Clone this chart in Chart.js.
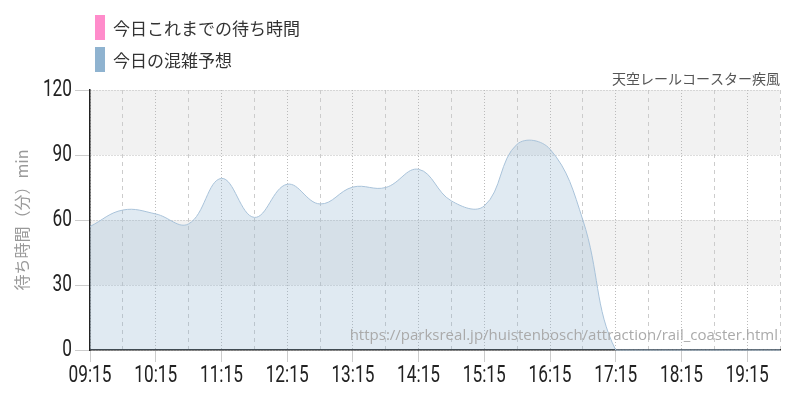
<!DOCTYPE html>
<html lang="ja">
<head>
<meta charset="UTF-8">
<title>天空レールコースター疾風</title>
<script src="https://cdn.jsdelivr.net/npm/chart.js"></script>
<style>
    body { margin: 0; background: #fff; }
    #wrap { position: relative; width: 800px; height: 400px; }
    #legend {
        position: absolute; left: 95px; top: 15px;
        font-family: 'Noto Sans CJK JP', sans-serif; font-size: 17px; color: #333;
    }
    #legend .item { display: flex; align-items: center; height: 25px; margin-bottom: 7px; }
    #legend .box { width: 10px; height: 25px; margin-right: 8px; }
</style>
</head>
<body>
<div id="wrap">
    <canvas id="chart" width="800" height="400"></canvas>
    <div id="legend"></div>
</div>
<script>
    // 30 minute slots, 09:15 - 19:45
    const timeLabels = ['09:15', '09:45', '10:15', '10:45', '11:15', '11:45', '12:15', '12:45',
        '13:15', '13:45', '14:15', '14:45', '15:15', '15:45', '16:15', '16:45',
        '17:15', '17:45', '18:15', '18:45', '19:15', '19:45'];
    const hourLabels = ['09:15', '10:15', '11:15', '12:15', '13:15', '14:15', '15:15',
        '16:15', '17:15', '18:15', '19:15'];
    const todayWait = []; // nothing recorded yet
    const forecast = [57, 64.6, 62.8, 58.2, 79.2, 61.2, 76.5, 67.4, 75.2, 75, 83.4, 68.8,
        66.5, 95, 92.7, 60, 0, 0, 0, 0, 0, 0];
    const yTicks = [0, 30, 60, 90, 120];

    const bands = {
        id: 'bands',
        beforeDraw(chart) {
            const { ctx, chartArea: a, scales: { y } } = chart;
            ctx.save();
            ctx.fillStyle = '#f2f2f2';
            [[90, 120], [30, 60]].forEach(([lo, hi]) => {
                const top = y.getPixelForValue(hi), bot = y.getPixelForValue(lo);
                ctx.fillRect(a.left, top, a.right - a.left, bot - top);
            });
            ctx.restore();
        }
    };

    const watermark = {
        id: 'watermark',
        afterDatasetsDraw(chart) {
            const { ctx, chartArea: a } = chart;
            ctx.save();
            ctx.font = "15px 'Open Sans', sans-serif";
            ctx.fillStyle = '#aaa';
            ctx.textAlign = 'right';
            ctx.textBaseline = 'middle';
            ctx.fillText('https://parksreal.jp/huistenbosch/attraction/rail_coaster.html', a.right - 2, a.bottom - 14);
            ctx.restore();
        }
    };

    // narrow tick labels (no condensed font available, so squeeze Roboto)
    const narrowTicks = {
        id: 'narrowTicks',
        afterDraw(chart) {
            const { ctx, scales: { x, y } } = chart;
            const put = (text, px, py, align) => {
                ctx.save();
                ctx.translate(px, py);
                ctx.scale(0.75, 1);
                ctx.textAlign = align;
                ctx.fillText(text, 0, 0);
                ctx.restore();
            };
            ctx.save();
            ctx.font = "23px Roboto, sans-serif";
            ctx.fillStyle = '#222';
            ctx.textBaseline = 'middle';
            x.ticks.forEach((t, i) => {
                const l = timeLabels[i];
                if (hourLabels.includes(l)) put(l, x.getPixelForTick(i), x.top + 26, 'center');
            });
            y.ticks.forEach(t => put(String(t.value), y.right - 18, y.getPixelForValue(t.value), 'right'));
            ctx.restore();
        }
    };

    const chart = new Chart(document.getElementById('chart'), {
        type: 'line',
        data: {
            labels: timeLabels,
            datasets: [{
                label: '今日これまでの待ち時間',
                data: todayWait,
                borderColor: '#ff8ccb',
                backgroundColor: '#ff8ccb'
            }, {
                label: '今日の混雑予想',
                data: forecast,
                fill: 'origin',
                borderColor: '#a9c3da',
                backgroundColor: 'rgba(143, 179, 208, 0.28)',
                borderWidth: 1,
                pointRadius: 0,
                tension: 0.4,
                clip: false,
                legendColor: '#8fb3d0'
            }]
        },
        options: {
            responsive: false,
            animation: false,
            layout: { padding: { top: 70, right: 20, left: 0, bottom: 0 } },
            plugins: {
                legend: { display: false },
                tooltip: { enabled: false },
                title: {
                    display: true,
                    text: '天空レールコースター疾風',
                    align: 'end',
                    color: '#555',
                    font: { family: "'Noto Sans CJK JP', sans-serif", size: 14, weight: 'normal', lineHeight: 1.2 },
                    padding: { top: 0, bottom: 3.2 }
                }
            },
            scales: {
                x: {
                    grid: {
                        color: c => c.index % 2 === 0 ? '#bbb' : 'transparent',
                        tickColor: c => c.index % 2 === 0 ? '#ccc' : 'transparent',
                        tickLength: 12
                    },
                    border: { color: '#222', width: 1.5, dash: [1, 2] },
                    ticks: { autoSkip: false, maxRotation: 0, color: 'transparent' },
                    afterFit: s => { s.height = 50; }
                },
                x2: {
                    position: 'top',
                    labels: timeLabels,
                    grid: {
                        color: c => c.index % 2 === 1 ? '#ccc' : 'transparent',
                        drawTicks: false
                    },
                    border: { display: false, dash: [4, 4] },
                    ticks: { display: false },
                    afterFit: s => { s.height = 0; }
                },
                y: {
                    min: 0, max: 120,
                    afterBuildTicks: s => { s.ticks = yTicks.map(v => ({ value: v })); },
                    grid: { color: '#bbb', tickColor: '#ccc', tickLength: 15 },
                    border: { color: '#222', width: 1.5, dash: [1, 2] },
                    ticks: { color: 'transparent' },
                    title: {
                        display: true,
                        text: '待ち時間（分）min',
                        color: '#999',
                        font: { family: "'Noto Sans CJK JP', sans-serif", size: 16, lineHeight: 1.2 },
                        padding: { top: 12, bottom: 0 }
                    },
                    afterFit: s => { s.width = 90; }
                }
            }
        },
        plugins: [bands, watermark, narrowTicks]
    });

    // legend, built from the datasets
    document.getElementById('legend').innerHTML = chart.data.datasets.map(ds =>
        `<div class="item"><span class="box" style="background:${ds.legendColor || ds.borderColor}"></span>${ds.label}</div>`
    ).join('');
</script>
</body>
</html>
